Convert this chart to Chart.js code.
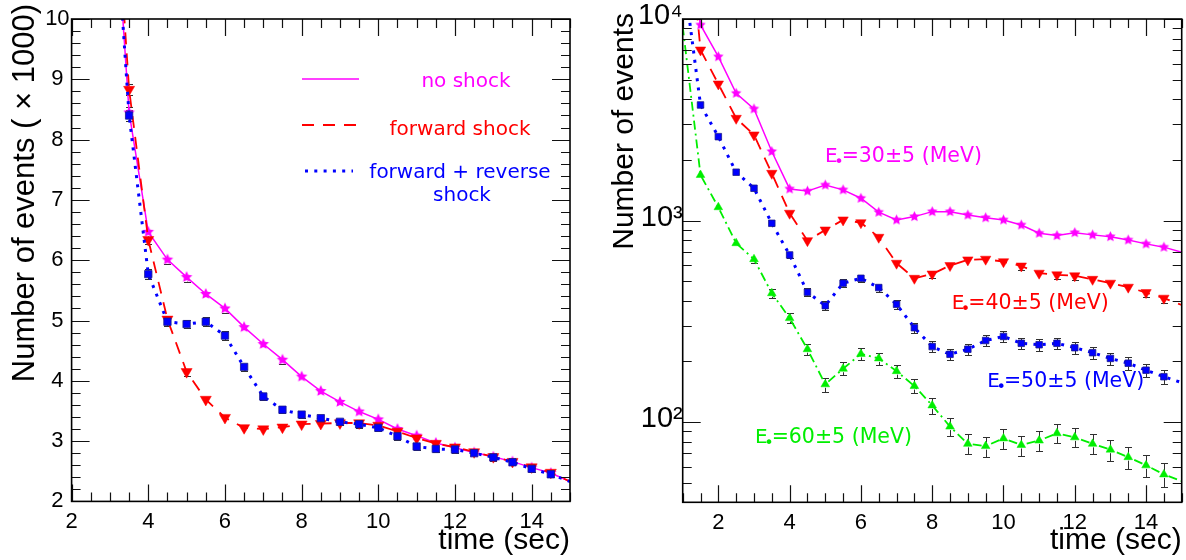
<!DOCTYPE html>
<html>
<head>
<meta charset="utf-8">
<script src="https://cdn.jsdelivr.net/npm/chart.js@4/dist/chart.umd.min.js"></script>
<style>
  html, body { margin: 0; padding: 0; background: #fff; }
  #wrap { position: relative; width: 1186px; height: 560px; overflow: hidden; }
  #wrap canvas { position: absolute; top: 0; }
  #leftPanel { left: 0; }
  #rightPanel { left: 593px; }
</style>
</head>
<body>
<div id="wrap">
  <canvas id="leftPanel" width="593" height="560"></canvas>
  <canvas id="rightPanel" width="593" height="560"></canvas>
</div>
<script>
// ---------- Left panel: event counts (×1000) for three shock scenarios ----------
const timeLeft = [3, 3.5, 4, 4.5, 5, 5.5, 6, 6.5, 7, 7.5, 8, 8.5, 9, 9.5, 10,
                  10.5, 11, 11.5, 12, 12.5, 13, 13.5, 14, 14.5, 15];
const noShock = [13.2, 8.45, 6.47, 6.01, 5.72, 5.44, 5.20, 4.89, 4.61, 4.35, 4.07, 3.83, 3.65, 3.49, 3.36,
                 3.20, 3.09, 2.97, 2.89, 2.81, 2.74, 2.66, 2.56, 2.47, 2.33];
const forwardShock = [13.6, 8.83, 6.34, 5.02, 4.15, 3.69, 3.39, 3.22, 3.20, 3.23, 3.28, 3.29, 3.30, 3.30, 3.26,
                      3.16, 3.05, 2.96, 2.90, 2.82, 2.74, 2.66, 2.57, 2.48, 2.33];
const forwardReverseShock = [13.1, 8.40, 5.77, 4.98, 4.94, 4.98, 4.75, 4.23, 3.74, 3.52, 3.44, 3.38, 3.32, 3.28, 3.22,
                             3.08, 2.91, 2.87, 2.86, 2.80, 2.73, 2.65, 2.54, 2.45, 2.33];
const leftXTicks = [2, 4, 6, 8, 10, 12, 14];
const leftYTicks = [2, 3, 4, 5, 6, 7, 8, 9, 10];
const leftLegend = ['no shock', 'forward shock', 'forward + reverse', 'shock'];

// ---------- Right panel: event counts per positron energy window ----------
const timeRight = [1, 1.5, 2, 2.5, 3, 3.5, 4, 4.5, 5, 5.5, 6, 6.5, 7, 7.5, 8,
                   8.5, 9, 9.5, 10, 10.5, 11, 11.5, 12, 12.5, 13, 13.5, 14, 14.5, 15];
const countsE30 = [30000, 9340, 6500, 4280, 3580, 2200, 1435, 1400, 1500, 1420, 1290, 1100, 1007, 1046, 1107,
                   1107, 1066, 1033, 1007, 951, 865, 842, 871, 849, 832, 801, 766, 738, 696];
const countsE40 = [60000, 7020, 4760, 3216, 2660, 1716, 1087, 795, 898, 1007, 976, 826, 614, 517, 543,
                   598, 638, 643, 625, 595, 548, 538, 532, 511, 489, 467, 439, 412, 381];
const countsE50 = [18000, 3745, 2608, 1737, 1446, 969, 675, 441, 378, 489, 517, 465, 384, 294, 237,
                   217, 230, 254, 266, 246, 242, 246, 234, 221, 207, 196, 181, 168, 157];
const countsE60 = [9200, 1683, 1164, 772, 643, 436, 328, 230, 154, 184, 218, 207, 179, 151, 121,
                   95, 78, 76, 83, 77, 81, 88, 84, 78, 73, 67, 61, 55, 51];
const rightXTicks = [2, 4, 6, 8, 10, 12, 14];
const rightYTicks = [100, 1000, 10000];
const energyWindows = ['=30\u00b15 (MeV)', '=40\u00b15 (MeV)', '=50\u00b15 (MeV)', '=60\u00b15 (MeV)'];

// ---------- styling ----------
const MAGENTA = '#ff00ff', RED = '#ff0000', BLUE = '#0000ff', GREEN = '#00ee00';
const SANS = "'Liberation Sans', Arial, sans-serif";
const LABEL_FONT = "'DejaVu Sans', Verdana, sans-serif";
Chart.defaults.font.family = SANS;
Chart.defaults.color = '#000';

function pts(xs, ys) { return xs.map((x, i) => ({ x, y: ys[i] })); }

// filled five-pointed star used as a marker image
function starMarker(color, r) {
  const c = document.createElement('canvas');
  const s = Math.ceil(r * 2 + 2);
  c.width = c.height = s;
  const g = c.getContext('2d');
  g.fillStyle = color;
  g.beginPath();
  for (let i = 0; i < 10; i++) {
    const ang = -Math.PI / 2 + i * Math.PI / 5;
    const rr = i % 2 ? r * 0.48 : r;
    g.lineTo(s / 2 + rr * Math.cos(ang), s / 2 + rr * Math.sin(ang));
  }
  g.closePath();
  g.fill();
  return c;
}

// markers only for samples strictly inside the time range
const innerRadius = r => ctx => {
  const s = ctx.chart.scales.x;
  const v = ctx.raw ? ctx.raw.x : NaN;
  return (v > s.min && v < s.max) ? r : 0;
};

// statistical (sqrt N) error bars; segments start at the marker edge and
// are omitted when the error does not reach beyond the marker
function errorBars(unit) {
  return {
    id: 'errorBars',
    beforeDatasetsDraw(chart) {
      const { ctx, chartArea: a, scales: { x, y } } = chart;
      ctx.save();
      ctx.beginPath(); ctx.rect(a.left, a.top, a.width, a.height); ctx.clip();
      ctx.strokeStyle = '#303030';
      ctx.lineWidth = 1;
      ctx.beginPath();
      chart.data.datasets.forEach(ds => {
        const gap = ds.markerHalf || 0;
        ds.data.forEach(p => {
          if (p.x <= x.min || p.x >= x.max) return;
          const err = Math.sqrt(p.y * unit) / unit;
          const px = Math.round(x.getPixelForValue(p.x)) + 0.5;
          const py = y.getPixelForValue(p.y);
          const yHi = Math.round(y.getPixelForValue(p.y + err)) + 0.5;
          const yLo = Math.round(y.getPixelForValue(p.y - err)) + 0.5;
          if (py - yHi > gap) {
            ctx.moveTo(px, py - gap); ctx.lineTo(px, yHi);
            ctx.moveTo(px - 3.5, yHi); ctx.lineTo(px + 3.5, yHi);
          }
          if (yLo - py > gap) {
            ctx.moveTo(px, py + gap); ctx.lineTo(px, yLo);
            ctx.moveTo(px - 3.5, yLo); ctx.lineTo(px + 3.5, yLo);
          }
        });
      });
      ctx.stroke();
      ctx.restore();
    }
  };
}

// boxed frame with inward ticks on all four sides
function frame(xTicks, yTicks) {
  return {
    id: 'frame',
    afterDatasetsDraw(chart) {
      const { ctx, chartArea: a, scales: { x, y } } = chart;
      ctx.save();
      ctx.strokeStyle = '#111';
      ctx.lineWidth = 1.2;
      ctx.beginPath();
      xTicks.forEach(([v, major]) => {
        const px = Math.round(x.getPixelForValue(v)) + 0.5;
        const len = major ? 17 : 9;
        ctx.moveTo(px, a.bottom); ctx.lineTo(px, a.bottom - len);
        ctx.moveTo(px, a.top); ctx.lineTo(px, a.top + len);
      });
      yTicks.forEach(([v, major]) => {
        const py = Math.round(y.getPixelForValue(v)) + 0.5;
        const len = major ? 18 : 9;
        ctx.moveTo(a.left, py); ctx.lineTo(a.left + len, py);
        ctx.moveTo(a.right, py); ctx.lineTo(a.right - len, py);
      });
      ctx.stroke();
      ctx.strokeStyle = '#000';
      ctx.lineWidth = 1.6;
      ctx.strokeRect(a.left, a.top, a.width, a.height);
      ctx.restore();
    }
  };
}

// rotated y-axis title, right-aligned near the top edge
function yTitle(text, size, baselineX, endY) {
  return {
    id: 'yTitle',
    afterDraw(chart) {
      const ctx = chart.ctx;
      ctx.save();
      ctx.translate(baselineX, endY);
      ctx.rotate(-Math.PI / 2);
      ctx.font = size + 'px ' + SANS;
      ctx.fillStyle = '#000';
      ctx.textAlign = 'right';
      ctx.textBaseline = 'alphabetic';
      ctx.fillText(text, 0, 0);
      ctx.restore();
    }
  };
}

function scaleX(min, max, ticks, height) {
  return {
    type: 'linear', min, max,
    grid: { display: false, drawTicks: false }, border: { display: false },
    afterBuildTicks: s => { s.ticks = ticks.map(v => ({ value: v })); },
    afterFit: s => { s.height = height; },
    ticks: { autoSkip: false, maxRotation: 0, padding: 7.5, font: { size: 22 }, color: '#000' },
    title: { display: true, text: 'time (sec)', align: 'end', color: '#000',
             font: { size: 30 }, padding: { top: 0, bottom: 1 } }
  };
}

const commonOptions = {
  responsive: false, animation: false, events: [], devicePixelRatio: 1,
  plugins: { legend: { display: false }, tooltip: { enabled: false } },
  elements: { line: { tension: 0 } }
};

// ---------- left chart ----------
const leftMinor = [];
for (let i = 4; i <= 30; i++) leftMinor.push([i / 2, i % 4 === 0]);
const leftYMinor = [];
for (let i = 10; i <= 50; i++) leftYMinor.push([i / 5, i % 5 === 0]);

const leftDatasets = [
  { label: leftLegend[0], data: pts(timeLeft, noShock), borderColor: MAGENTA, backgroundColor: MAGENTA,
    borderWidth: 1.5, pointStyle: starMarker(MAGENTA, 6), pointRadius: innerRadius(6),
    markerHalf: 4.6, order: 3, clip: 0 },
  { label: leftLegend[1], data: pts(timeLeft, forwardShock), borderColor: RED, backgroundColor: RED,
    borderWidth: 1.8, borderDash: [12, 9], pointStyle: 'triangle', rotation: 180,
    pointRadius: innerRadius(6.4), pointBorderWidth: 0.5, pointBorderColor: RED,
    markerHalf: 4.5, order: 2, clip: 0 },
  { label: leftLegend[2] + ' ' + leftLegend[3], data: pts(timeLeft, forwardReverseShock), borderColor: BLUE,
    backgroundColor: BLUE, borderWidth: 3, borderDash: [3, 6.3], pointStyle: 'rect',
    pointRadius: innerRadius(5.2), pointBorderWidth: 0.8, pointBorderColor: '#1a1a8a',
    markerHalf: 3.5, order: 1, clip: 0 }
];

const scenarioLegend = {
  id: 'scenarioLegend',
  afterDraw(chart) {
    const ctx = chart.ctx;
    const ds = chart.data.datasets;
    const rows = [
      { d: ds[0], y: 79, x0: 302, x1: 359, text: [[leftLegend[0], 466, 86.7]] },
      { d: ds[1], y: 125, x0: 302, x1: 359, text: [[leftLegend[1], 460, 135]] },
      { d: ds[2], y: 171, x0: 305, x1: 353, text: [[leftLegend[2], 460, 177.7], [leftLegend[3], 462, 201]] }
    ];
    ctx.save();
    rows.forEach(r => {
      ctx.strokeStyle = r.d.borderColor;
      ctx.lineWidth = r.d.borderWidth;
      ctx.setLineDash(r.d.borderDash || []);
      ctx.beginPath(); ctx.moveTo(r.x0, r.y); ctx.lineTo(r.x1, r.y); ctx.stroke();
      ctx.setLineDash([]);
      ctx.fillStyle = r.d.borderColor;
      ctx.font = '20px ' + LABEL_FONT;
      ctx.textAlign = 'center';
      ctx.textBaseline = 'alphabetic';
      r.text.forEach(([t, x, y]) => ctx.fillText(t, x, y));
    });
    ctx.restore();
  }
};

new Chart(document.getElementById('leftPanel'), {
  type: 'line',
  data: { datasets: leftDatasets },
  options: Object.assign({}, commonOptions, {
    layout: { padding: { left: 0, top: 19, right: 23, bottom: 0 } },
    scales: {
      x: scaleX(2, 15, leftXTicks, 58.6),
      y: {
        type: 'linear', min: 2, max: 10,
        grid: { display: false, drawTicks: false }, border: { display: false },
        afterBuildTicks: s => { s.ticks = leftYTicks.map(v => ({ value: v })); },
        afterFit: s => { s.width = 71.6; },
        ticks: { padding: 2, crossAlign: 'center', font: { size: 22 }, color: '#000' }
      }
    }
  }),
  plugins: [errorBars(1000), frame(leftMinor, leftYMinor),
            yTitle('Number of events ( \u00d7 1000)', 31, 33.8, 4), scenarioLegend]
});

// ---------- right chart ----------
const rightMinor = [];
for (let i = 2; i <= 30; i++) rightMinor.push([i / 2, i % 4 === 0]);
const rightYMinor = [];
[10, 100, 1000].forEach(dec => {
  for (let m = 1; m <= 9; m++) {
    const v = m * dec;
    if (v >= 40 && v <= 10000) rightYMinor.push([v, m === 1]);
  }
});
rightYMinor.push([10000, true]);

const supDigits = { '2': '\u00b2', '3': '\u00b3', '4': '\u2074' };

const rightDatasets = [
  { data: pts(timeRight, countsE30), borderColor: MAGENTA, backgroundColor: MAGENTA, borderWidth: 1.5,
    pointStyle: starMarker(MAGENTA, 5.5), pointRadius: innerRadius(5.5), markerHalf: 4.5, order: 4, clip: 0 },
  { data: pts(timeRight, countsE40), borderColor: RED, backgroundColor: RED, borderWidth: 1.8,
    borderDash: [12, 9], pointStyle: 'triangle', rotation: 180, pointRadius: innerRadius(6),
    pointBorderWidth: 0.5, pointBorderColor: RED, markerHalf: 4.5, order: 3, clip: 0 },
  { data: pts(timeRight, countsE50), borderColor: BLUE, backgroundColor: BLUE, borderWidth: 3,
    borderDash: [3, 6.3], pointStyle: 'rect', pointRadius: innerRadius(4.6),
    pointBorderWidth: 0.8, pointBorderColor: '#1a1a8a', markerHalf: 3.3, order: 2, clip: 0 },
  { data: pts(timeRight, countsE60), borderColor: GREEN, backgroundColor: GREEN, borderWidth: 1.8,
    borderDash: [9, 4, 2, 4], pointStyle: 'triangle', pointRadius: innerRadius(5),
    pointBorderWidth: 0.5, pointBorderColor: GREEN, markerHalf: 3.5, order: 1, clip: 0 }
];

const windowLabels = {
  id: 'windowLabels',
  afterDraw(chart) {
    const ctx = chart.ctx;
    const spots = [[232, 161.7], [358.7, 309.3], [394.3, 387.3], [162, 443.3]];
    ctx.save();
    ctx.textAlign = 'left';
    ctx.textBaseline = 'alphabetic';
    spots.forEach(([x, y], i) => {
      ctx.fillStyle = chart.data.datasets[i].borderColor;
      ctx.font = '20px ' + LABEL_FONT;
      ctx.fillText('E', x, y);
      const wE = ctx.measureText('E').width;
      ctx.font = '16px ' + LABEL_FONT;
      ctx.fillText('\u2022', x + wE - 3.5, y + 5);
      ctx.font = '20.5px ' + LABEL_FONT;
      ctx.fillText(energyWindows[i], x + wE + 4, y);
    });
    ctx.restore();
  }
};

new Chart(document.getElementById('rightPanel'), {
  type: 'line',
  data: { datasets: rightDatasets },
  options: Object.assign({}, commonOptions, {
    layout: { padding: { left: 0, top: 19, right: 4.3, bottom: 0 } },
    scales: {
      x: scaleX(1, 15, rightXTicks, 57.7),
      y: {
        type: 'logarithmic', min: 40, max: 10000,
        grid: { display: false, drawTicks: false }, border: { display: false },
        afterBuildTicks: s => { s.ticks = rightYTicks.map(v => ({ value: v })); },
        afterFit: s => { s.width = 89.7; },
        ticks: {
          padding: 0, labelOffset: -3, font: { size: 29, family: "'Liberation Sans', 'DejaVu Sans', sans-serif" },
          color: '#000',
          callback: v => '10' + supDigits[String(Math.round(Math.log10(v)))]
        }
      }
    }
  }),
  plugins: [errorBars(1), frame(rightMinor, rightYMinor),
            yTitle('Number of events', 30, 40.3, 13), windowLabels]
});
</script>
</body>
</html>
